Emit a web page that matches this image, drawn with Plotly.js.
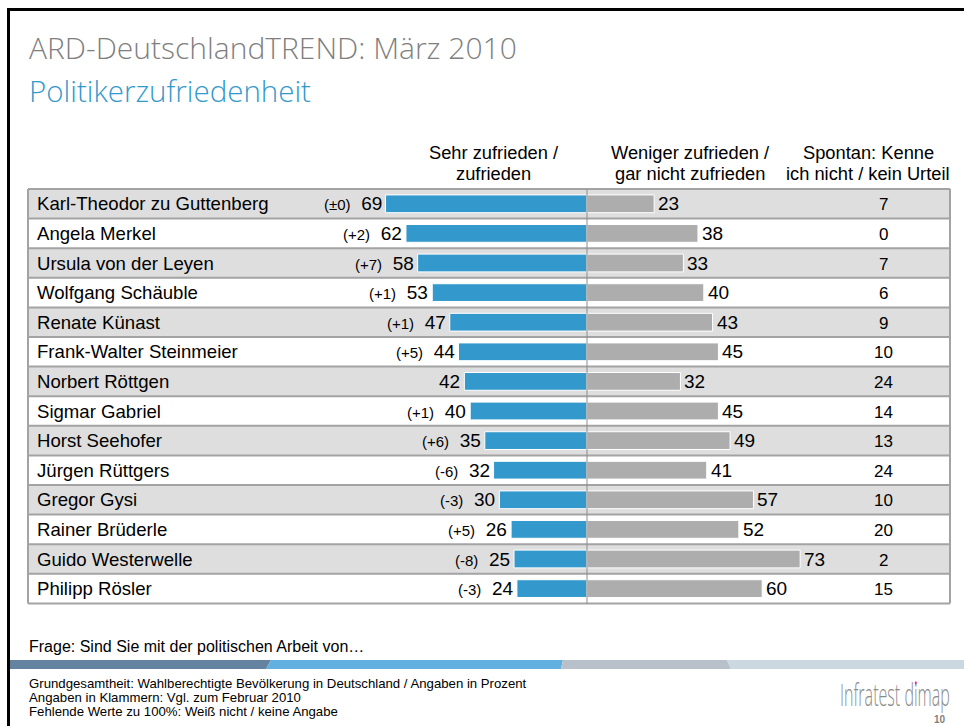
<!DOCTYPE html>
<html>
<head>
<meta charset="utf-8">
<script src="https://cdn.plot.ly/plotly-3.0.1.min.js"></script>
<style>html,body{margin:0;padding:0;background:#fff;}#chart{width:964px;height:726px;}</style>
</head>
<body>
<div id="chart"></div>
<script>
const names = ["Karl-Theodor zu Guttenberg","Angela Merkel","Ursula von der Leyen","Wolfgang Schäuble","Renate Künast","Frank-Walter Steinmeier","Norbert Röttgen","Sigmar Gabriel","Horst Seehofer","Jürgen Rüttgers","Gregor Gysi","Rainer Brüderle","Guido Westerwelle","Philipp Rösler"];
const satisfied = [69,62,58,53,47,44,42,40,35,32,30,26,25,24];
const changes = ["±0","+2","+7","+1","+1","+5","","+1","+6","-6","-3","+5","-8","-3"];
const dissatisfied = [23,38,33,40,43,45,32,45,49,41,57,52,73,60];
const unknown = [7,0,7,6,9,10,24,14,13,24,10,20,2,15];
const headers = [["Sehr zufrieden /","zufrieden"],["Weniger zufrieden /","gar nicht zufrieden"],["Spontan: Kenne","ich nicht / kein Urteil"]];
const titleText = "ARD-DeutschlandTREND: März 2010";
const subtitleText = "Politikerzufriedenheit";
const questionText = "Frage: Sind Sie mit der politischen Arbeit von…";
const footnotes = ["Grundgesamtheit: Wahlberechtigte Bevölkerung in Deutschland / Angaben in Prozent","Angaben in Klammern: Vgl. zum Februar 2010","Fehlende Werte zu 100%: Weiß nicht / keine Angabe"];
const logoText = "Infratest dimap";
const pageText = "10";

const W = 964, H = 726;
const px = x => x / W;
const py = y => 1 - y / H;
const FONT = "Liberation Sans, Arial, sans-serif";
const LIGHT = "Open Sans, DejaVu Sans, sans-serif";
const BLUE = "#3399cc", GREY = "#adadad";

const traces = [
  {type:"bar", orientation:"h", y:names, x:satisfied.map(v=>-v), width:0.6,
   marker:{color:BLUE, line:{color:"#ffffff", width:1}}, hoverinfo:"skip"},
  {type:"bar", orientation:"h", y:names, x:dissatisfied, width:0.6,
   marker:{color:GREY, line:{color:"#ffffff", width:1}}, hoverinfo:"skip"}
];

const shapes = [];
const TL = 28, TR = 950;
names.forEach((n,i)=>{
  if (i % 2 === 0) shapes.push({type:"rect", layer:"below", xref:"paper", yref:"y", x0:px(TL), x1:px(TR), y0:i-0.5, y1:i+0.5, fillcolor:"#dedede", line:{width:0}});
});
for (let i=0;i<=names.length;i++){
  shapes.push({type:"line", layer:"below", xref:"paper", yref:"y", x0:px(TL), x1:px(TR), y0:i-0.5, y1:i-0.5, line:{color:"#a3a3a3", width:2}});
}
shapes.push({type:"line", layer:"below", xref:"paper", yref:"y", x0:px(TL), x1:px(TL), y0:-0.5, y1:names.length-0.5, line:{color:"#a3a3a3", width:2}});
shapes.push({type:"line", layer:"below", xref:"paper", yref:"y", x0:px(TR), x1:px(TR), y0:-0.5, y1:names.length-0.5, line:{color:"#a3a3a3", width:2}});
shapes.push({type:"line", layer:"above", xref:"x", yref:"y", x0:0, x1:0, y0:-0.5, y1:names.length-0.5, line:{color:"#8c8c8c", width:1}});
// frame
shapes.push({type:"line", xref:"paper", yref:"paper", x0:px(7), x1:px(964), y0:py(9.5), y1:py(9.5), line:{color:"#000", width:3}});
shapes.push({type:"line", xref:"paper", yref:"paper", x0:px(8.5), x1:px(8.5), y0:py(8), y1:py(726), line:{color:"#000", width:3}});
// band
const bt = py(660), bb = py(669);
const seg = (xt0,xb0,xt1,xb1,col)=>({type:"path", xref:"paper", yref:"paper",
  path:`M ${px(xb0)} ${bb} L ${px(xt0)} ${bt} L ${px(xt1)} ${bt} L ${px(xb1)} ${bb} Z`, fillcolor:col, line:{width:0}});
shapes.push(seg(10,10,271,266,"#6383a0"));
shapes.push(seg(271,266,563,561,"#62b0e0"));
shapes.push(seg(563,561,727,731,"#b8c1ca"));
shapes.push(seg(727,731,964,964,"#cbd8df"));

const ann = [];
ann.push({xref:"paper", yref:"paper", x:px(27), y:py(47), xanchor:"left", yanchor:"middle", showarrow:false,
  text:titleText, font:{family:LIGHT, size:30, color:"#7f7f7f", weight:300}});
ann.push({xref:"paper", yref:"paper", x:px(27), y:py(90), xanchor:"left", yanchor:"middle", showarrow:false,
  text:subtitleText, font:{family:LIGHT, size:29.5, color:"#3399cc", weight:300}});
const hx = [494, 690, 868];
headers.forEach((h,k)=>h.forEach((line,j)=>ann.push({xref:"paper", yref:"paper", x:px(hx[k]), y:py(153+j*21), xanchor:"center", yanchor:"middle", showarrow:false,
  text:line, font:{family:FONT, size:18.3, color:"#000"}})));
names.forEach((n,i)=>{
  ann.push({xref:"paper", yref:"y", x:px(35), y:n, xanchor:"left", yanchor:"middle", showarrow:false,
    text:n, font:{family:FONT, size:18.6, color:"#000"}});
  const ch = changes[i] ? `<span style="font-size:15px">(${changes[i]})</span>&nbsp;&nbsp;` : "";
  ann.push({xref:"x", yref:"y", x:-satisfied[i], y:n, xanchor:"right", yanchor:"middle", xshift:-2, showarrow:false,
    text:ch + satisfied[i], font:{family:FONT, size:19, color:"#000"}});
  ann.push({xref:"x", yref:"y", x:dissatisfied[i], y:n, xanchor:"left", yanchor:"middle", xshift:2, showarrow:false,
    text:String(dissatisfied[i]), font:{family:FONT, size:19, color:"#000"}});
  ann.push({xref:"paper", yref:"y", x:px(883), y:n, xanchor:"center", yanchor:"middle", yshift:-1, showarrow:false,
    text:String(unknown[i]), font:{family:FONT, size:17, color:"#000"}});
});
ann.push({xref:"paper", yref:"paper", x:px(27), y:py(646), xanchor:"left", yanchor:"middle", showarrow:false,
  text:questionText, font:{family:FONT, size:16, color:"#000"}});
footnotes.forEach((f,k)=>ann.push({xref:"paper", yref:"paper", x:px(27), y:py(683+k*14), xanchor:"left", yanchor:"middle", showarrow:false,
  text:f, font:{family:FONT, size:13.2, color:"#000"}}));
ann.push({xref:"paper", yref:"paper", x:px(895), y:py(694), xanchor:"center", yanchor:"middle", showarrow:false,
  text:logoText, font:{family:LIGHT, size:31, color:"#8a8a8a", weight:300}});
ann.push({xref:"paper", yref:"paper", x:px(948), y:py(719), xanchor:"right", yanchor:"middle", showarrow:false,
  text:pageText, font:{family:FONT, size:10, color:"#7f7f7f", weight:700}});

const layout = {
  width:W, height:H, margin:{l:0,r:0,t:0,b:0,pad:0},
  paper_bgcolor:"#ffffff", plot_bgcolor:"rgba(0,0,0,0)",
  barmode:"relative", showlegend:false,
  xaxis:{range:[-587/2.92, (W-587)/2.92], visible:false, fixedrange:true},
  yaxis:{type:"category", range:[(H-203.8)/29.6, -203.8/29.6], visible:false, fixedrange:true},
  shapes:shapes, annotations:ann, font:{family:FONT}
};
Plotly.newPlot("chart", traces, layout, {displayModeBar:false, staticPlot:true}).then(gd=>{
  gd.querySelectorAll("text.annotation-text").forEach(t=>{
    if (t.textContent === logoText) {
      const b = t.getBBox();
      const cx = b.x + b.width / 2;
      const s = 110 / b.width;
      t.setAttribute("transform", `translate(${cx},0) scale(${s},1) translate(${-cx},0)`);
      // magenta dot on the "i" of "dimap"
      const svgNS = "http://www.w3.org/2000/svg";
      const n = t.getNumberOfChars ? t.getNumberOfChars() : 0;
      const idx = logoText.lastIndexOf("i");
      if (n > idx) {
        const ext = t.getExtentOfChar(idx);
        const dot = document.createElementNS(svgNS, "rect");
        const ix = cx + (ext.x + ext.width / 2 - cx) * s;
        dot.setAttribute("x", ix - 0.9);
        dot.setAttribute("y", ext.y + ext.height * 0.2);
        dot.setAttribute("width", 1.8);
        dot.setAttribute("height", 2.6);
        dot.setAttribute("fill", "#e0208a");
        t.parentNode.appendChild(dot);
      }
    }
  });
});
</script>
</body>
</html>
